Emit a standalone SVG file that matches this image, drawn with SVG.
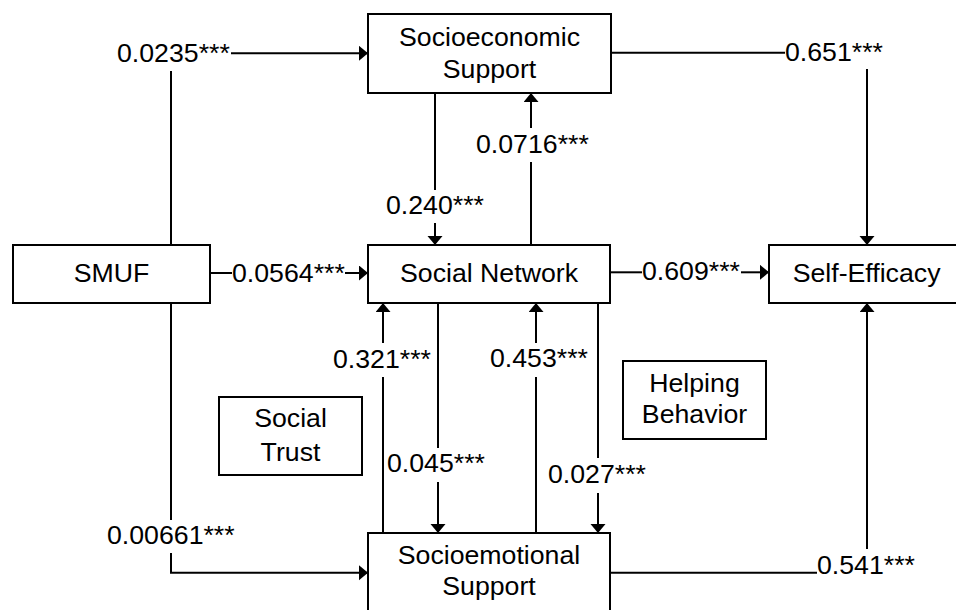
<svg xmlns="http://www.w3.org/2000/svg" width="956" height="610" viewBox="0 0 956 610">
<style>
.box{fill:#fff;stroke:#000;stroke-width:2}
.t{font-family:"Liberation Sans",Arial,sans-serif;font-size:26.7px;fill:#000}
.n{text-anchor:middle}
.c{fill:none;stroke:#000;stroke-width:2}
</style>
<defs>
<marker id="ah" markerUnits="userSpaceOnUse" markerWidth="10" markerHeight="16" refX="9" refY="7.5" orient="auto" viewBox="0 0 10 16">
<path d="M0,0 L9,7.5 L0,15 z" fill="#000"/>
</marker>
</defs>
<rect width="956" height="610" fill="#fff"/>
<g id="connectors">
<path class="c" d="M171,245 V71"/>
<path class="c" d="M231,53.3 H368" marker-end="url(#ah)"/>
<path class="c" d="M210,273 H232"/>
<path class="c" d="M345,273 H368" marker-end="url(#ah)"/>
<path class="c" d="M171,303 V520"/>
<path class="c" d="M171,553 V572.7 H368" marker-end="url(#ah)"/>
<path class="c" d="M435,93 V190"/>
<path class="c" d="M435,223 V245" marker-end="url(#ah)"/>
<path class="c" d="M531,245 V162"/>
<path class="c" d="M531,128 V93" marker-end="url(#ah)"/>
<path class="c" d="M611,52.7 H785"/>
<path class="c" d="M867,69 V245" marker-end="url(#ah)"/>
<path class="c" d="M610,272.3 H642"/>
<path class="c" d="M741,272.3 H769" marker-end="url(#ah)"/>
<path class="c" d="M383,533 V377"/>
<path class="c" d="M383,343 V303" marker-end="url(#ah)"/>
<path class="c" d="M438,303 V448"/>
<path class="c" d="M438,482 V533" marker-end="url(#ah)"/>
<path class="c" d="M536,533 V377"/>
<path class="c" d="M536,343 V303" marker-end="url(#ah)"/>
<path class="c" d="M598,303 V458"/>
<path class="c" d="M598,493 V533" marker-end="url(#ah)"/>
<path class="c" d="M610,572.7 H817"/>
<path class="c" d="M867,549 V303" marker-end="url(#ah)"/>
<text class="t" x="117" y="62">0.0235***</text>
<text class="t" x="232" y="282">0.0564***</text>
<text class="t" x="107" y="544">0.00661***</text>
<text class="t" x="386" y="214">0.240***</text>
<text class="t" x="476" y="153">0.0716***</text>
<text class="t" x="785" y="61">0.651***</text>
<text class="t" x="642" y="280">0.609***</text>
<text class="t" x="333" y="368">0.321***</text>
<text class="t" x="387" y="472">0.045***</text>
<text class="t" x="490" y="367">0.453***</text>
<text class="t" x="548" y="483">0.027***</text>
<text class="t" x="817" y="574">0.541***</text>
</g>
<g id="socioeconomic">
<rect class="box" x="368" y="14" width="243" height="79"/>
<text class="t n" x="489.5" y="46">Socioeconomic</text>
<text class="t n" x="489.5" y="78">Support</text>
</g>
<g id="smuf">
<rect class="box" x="13" y="245" width="197" height="58"/>
<text class="t n" x="111.5" y="282">SMUF</text>
</g>
<g id="social-network">
<rect class="box" x="368" y="245" width="242" height="58"/>
<text class="t n" x="489" y="282">Social Network</text>
</g>
<g id="self-efficacy">
<rect class="box" x="769" y="245" width="200" height="58"/>
<text class="t n" x="866.6" y="282">Self-Efficacy</text>
</g>
<g id="social-trust">
<rect class="box" x="219" y="397" width="143" height="78"/>
<text class="t n" x="290.5" y="427">Social</text>
<text class="t n" x="290.5" y="461">Trust</text>
</g>
<g id="helping-behavior">
<rect class="box" x="623" y="361" width="143" height="78"/>
<text class="t n" x="694.5" y="392">Helping</text>
<text class="t n" x="694.5" y="423">Behavior</text>
</g>
<g id="socioemotional">
<rect class="box" x="368" y="533" width="242" height="80"/>
<text class="t n" x="489" y="564">Socioemotional</text>
<text class="t n" x="489" y="595">Support</text>
</g>
</svg>
